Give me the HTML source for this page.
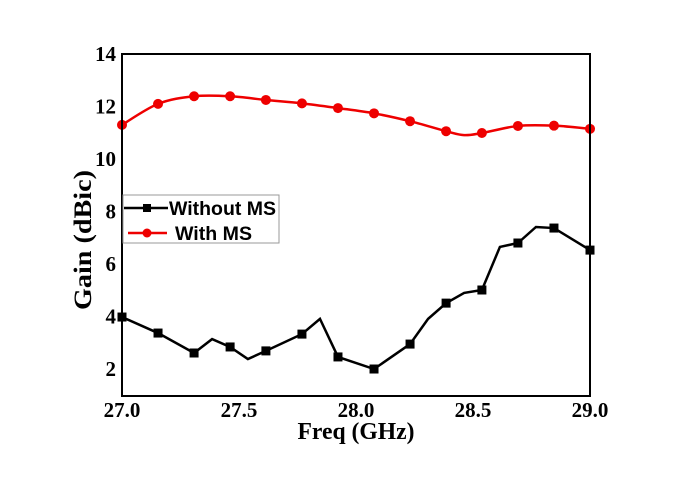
<!DOCTYPE html>
<html><head><meta charset="utf-8"><style>
body{margin:0;background:#fff}
svg text{font-family:"Liberation Serif",serif;font-weight:bold;fill:#000}
</style></head><body>
<svg width="685" height="477" viewBox="0 0 685 477" xmlns="http://www.w3.org/2000/svg">
<g id="ticks"></g>
<g id="series"></g>
<rect x="122" y="54" width="468" height="342" fill="none" stroke="#000" stroke-width="2"/>
<g>
<rect x="123" y="195" width="156" height="48" fill="#fff" stroke="#999" stroke-width="1"/>
<line x1="124" y1="208" x2="168" y2="208" stroke="#000" stroke-width="2.5"/>
<rect x="143" y="204" width="8" height="8" fill="#000"/>
<text x="169" y="215" textLength="107" lengthAdjust="spacingAndGlyphs" style="font-family:'Liberation Sans',sans-serif;font-size:19px">Without MS</text>
<line x1="128" y1="233" x2="167" y2="233" stroke="#e00" stroke-width="2.5"/>
<circle cx="147" cy="233" r="4.5" fill="#e00"/>
<text x="175" y="240" textLength="77" lengthAdjust="spacingAndGlyphs" style="font-family:'Liberation Sans',sans-serif;font-size:19px">With MS</text>
</g>
<text x="356" y="439" text-anchor="middle" font-size="24" textLength="117" lengthAdjust="spacingAndGlyphs">Freq (GHz)</text>
<text transform="translate(91,240) rotate(-90)" text-anchor="middle" font-size="25" textLength="140" lengthAdjust="spacingAndGlyphs">Gain (dBic)</text>
</svg>
<script>
const xTicks=[27.0,27.5,28.0,28.5,29.0];
const yTicks=[2,4,6,8,10,12,14];
const xWithout=[27,27.154,27.308,27.385,27.462,27.538,27.615,27.769,27.846,27.923,28.077,28.231,28.308,28.385,28.462,28.538,28.615,28.692,28.769,28.846,29.0];
const yWithout=[3.97,3.36,2.60,3.13,2.83,2.37,2.68,3.32,3.90,2.45,1.99,2.94,3.90,4.50,4.89,5.0,6.64,6.79,7.40,7.36,6.52];
const mWithout=[1,1,1,0,1,0,1,1,0,1,1,1,0,1,0,1,0,1,0,1,1];
const xWith=[27,27.154,27.308,27.462,27.615,27.769,27.923,28.077,28.231,28.385,28.462,28.538,28.692,28.846,29.0];
const yWith=[11.29,12.09,12.38,12.38,12.24,12.11,11.93,11.73,11.43,11.05,10.9,10.98,11.25,11.26,11.14];
const mWith=[1,1,1,1,1,1,1,1,1,1,0,1,1,1,1];
const X=v=>122+(v-27)*234;
const Y=v=>395-(v-1)*26.25;
const NS="http://www.w3.org/2000/svg";
const tk=document.getElementById('ticks'),sr=document.getElementById('series');
function mk(t,a,p){const e=document.createElementNS(NS,t);for(const k in a)e.setAttribute(k,a[k]);p.appendChild(e);return e;}
xTicks.forEach(v=>{const t=mk('text',{x:X(v),y:417,'text-anchor':'middle','font-size':21},tk);t.textContent=v.toFixed(1);

});
yTicks.forEach(v=>{const t=mk('text',{x:116,y:Y(v)+7,'text-anchor':'end','font-size':21},tk);t.textContent=v;

});
let d=xWithout.map((x,i)=>(i?'L':'M')+X(x)+','+Y(yWithout[i])).join('');
const p1=mk('path',{d:d,fill:'none',stroke:'#000','stroke-width':2.5,'stroke-linejoin':'miter'},sr);


xWithout.forEach((x,i)=>{if(!mWithout[i])return;const r=mk('rect',{x:X(x)-4.5,y:Y(yWithout[i])-4.5,width:9,height:9,fill:'#000'},sr);

});
const P=xWith.map((x,i)=>[X(x),Y(yWith[i])]);
let d2='M'+P[0];
for(let i=0;i<P.length-1;i++){const a=P[i-1]||P[i],b=P[i],c=P[i+1],e=P[i+2]||c;
d2+='C'+(b[0]+(c[0]-a[0])/6)+','+(b[1]+(c[1]-a[1])/6)+' '+(c[0]-(e[0]-b[0])/6)+','+(c[1]-(e[1]-b[1])/6)+' '+c[0]+','+c[1];}
const p2=mk('path',{d:d2,fill:'none',stroke:'#e00','stroke-width':2.5},sr);


xWith.forEach((x,i)=>{if(!mWith[i])return;const c=mk('circle',{cx:X(x),cy:Y(yWith[i]),r:5,fill:'#e00'},sr);

});
</script>
</body></html>
